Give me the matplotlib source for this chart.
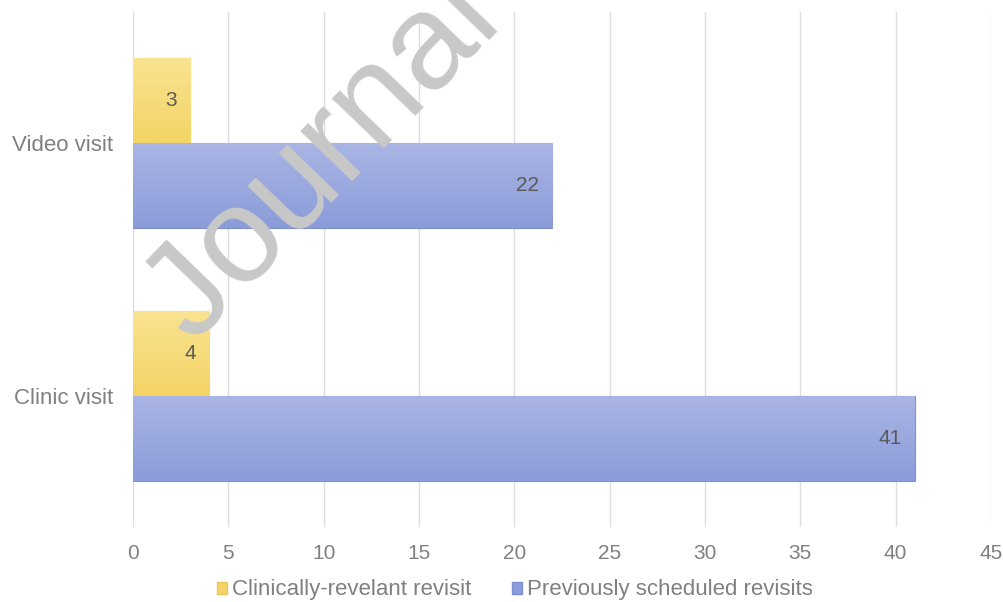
import matplotlib
matplotlib.use('Agg')
import matplotlib.pyplot as plt
import numpy as np
from matplotlib.colors import LinearSegmentedColormap
from matplotlib.patches import Patch

plt.rcParams['font.family'] = ['Liberation Sans', 'DejaVu Sans']

categories = ['Clinic visit', 'Video visit']
clinically_relevant = [4, 3]
previously_scheduled = [41, 22]
series_names = ['Clinically-revelant revisit', 'Previously scheduled revisits']
x_ticks = [0, 5, 10, 15, 20, 25, 30, 35, 40, 45]

YELLOW = ('#fae391', '#f4d466')
BLUE = ('#aab5e4', '#8a9cd9')
TEXT_GRAY = '#808080'
LABEL_GRAY = '#5a5a5a'

fig = plt.figure(figsize=(10.04, 6.02), dpi=100)
ax = fig.add_axes([133 / 1004, 1 - 527 / 602, 858 / 1004, 515 / 602])

y = np.arange(len(categories))
h = 0.337
bars_yellow = ax.barh(y + h / 2, clinically_relevant, height=h, color=YELLOW[1],
                      edgecolor='#e8c85a', linewidth=0.8, zorder=2)
bars_blue = ax.barh(y - h / 2, previously_scheduled, height=h, color=BLUE[1],
                    edgecolor='#7e8fcb', linewidth=0.8, zorder=2)


def add_gradient(bars, colors):
    cmap = LinearSegmentedColormap.from_list('g', [colors[1], colors[0]])
    grad = np.linspace(0, 1, 64).reshape(-1, 1)
    for bar in bars:
        x0, y0 = bar.get_x(), bar.get_y()
        w, hh = bar.get_width(), bar.get_height()
        im = ax.imshow(grad, cmap=cmap, extent=[x0, x0 + w, y0, y0 + hh],
                       origin='lower', aspect='auto', zorder=2.1)
        im.set_clip_path(bar)


add_gradient(bars_yellow, YELLOW)
add_gradient(bars_blue, BLUE)

for bars, vals in [(bars_yellow, clinically_relevant), (bars_blue, previously_scheduled)]:
    for bar, v in zip(bars, vals):
        ax.annotate(str(v), (v, bar.get_y() + bar.get_height() / 2),
                    xytext=(-13, 0), textcoords='offset pixels',
                    ha='right', va='center', fontsize=15, color=LABEL_GRAY, zorder=3)

ax.set_xlim(0, 45)
ax.set_ylim(-0.52, 1.52)
ax.set_xticks(x_ticks)
ax.set_xticklabels([str(t) for t in x_ticks])
ax.set_yticks(y)
ax.set_yticklabels(categories)
ax.tick_params(axis='both', length=0, labelcolor=TEXT_GRAY)
ax.tick_params(axis='x', pad=12, labelsize=15)
ax.tick_params(axis='y', pad=14, labelsize=16)
ax.grid(axis='x', color='#dedede', linewidth=1.0, zorder=0)
ax.set_axisbelow(True)
for s in ax.spines.values():
    s.set_visible(False)

handles = [Patch(facecolor=YELLOW[1], edgecolor='#e8c85a'),
           Patch(facecolor=BLUE[1], edgecolor='#7e8fcb')]
fig.legend(handles, series_names, loc='center', ncol=2,
           bbox_to_anchor=(515 / 1004, 1 - 590 / 602), frameon=False,
           fontsize=16, labelcolor=TEXT_GRAY, handlelength=0.45, handleheight=0.45,
           handletextpad=0.25, columnspacing=1.8)

# watermark
fig.text(194 / 1004, 1 - 346 / 602, 'Journal Pre-proof', fontsize=98,
         color='#c8c8c8', rotation=46, rotation_mode='anchor',
         ha='left', va='baseline', zorder=10)

fig.savefig('out.png', dpi=100)
